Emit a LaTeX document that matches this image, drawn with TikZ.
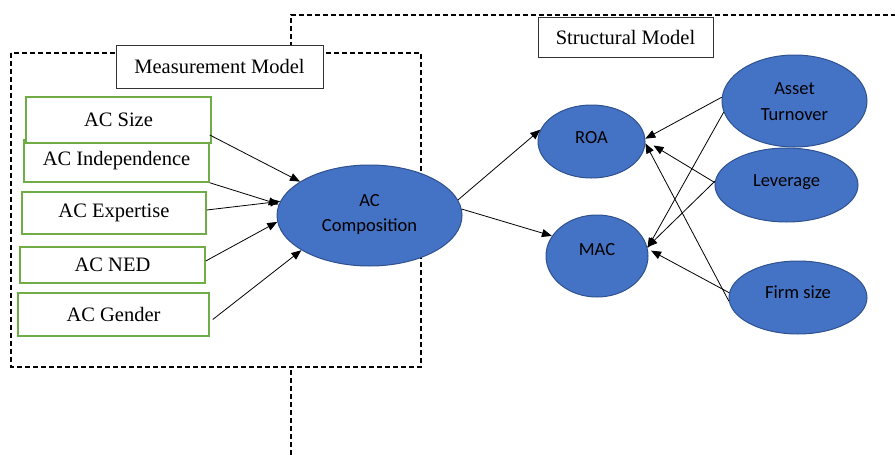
\documentclass[tikz,border=0pt]{standalone}
\usepackage{fontspec}
\setmainfont{Liberation Serif}
\newfontfamily\calfont{Carlito}
\usetikzlibrary{arrows.meta,shapes.geometric}
\definecolor{ellfill}{HTML}{4472C4}
\definecolor{elldraw}{HTML}{2F528F}
\definecolor{boxgreen}{HTML}{70AD47}
\begin{document}
\begin{tikzpicture}[x=1pt,y=-1pt,
 dashbox/.style={draw=black, line width=1.4pt, dash pattern=on 5pt off 3pt},
 titlebox/.style={draw=black!80, fill=white, line width=0.9pt, inner sep=0pt, font=\fontsize{20.5}{24}\selectfont},
 indbox/.style={draw=boxgreen, fill=white, line width=1.5pt, inner sep=0pt, font=\fontsize{20.5}{24}\selectfont},
 latent/.style={ellipse, draw=elldraw, fill=ellfill, line width=1pt, inner sep=0pt},
 lbl/.style={font=\calfont\fontsize{18.5}{25}\selectfont, inner sep=0pt, anchor=base},
 arr/.style={-{Triangle[length=10pt,width=8pt]}, line width=0.8pt},
]
\useasboundingbox (0,0) rectangle (895,455);
% structural model frame (partly hidden)
\draw[dashbox] (291,455) -- (291,15) -- (896,15);
% measurement model frame
\draw[dashbox, fill=white] (11,53) rectangle (421,367);
\node[titlebox, minimum width=207pt, minimum height=43pt] (mm) at (219.5,66.5) {Measurement Model};
\node[titlebox, minimum width=175pt, minimum height=40pt] (sm) at (625.5,37) {Structural Model};
% indicator boxes
\node[indbox, minimum width=185pt, minimum height=42pt] (acind) at (116.5,161) {AC Independence};
\node[indbox, minimum width=185pt, minimum height=46pt] (acsize) at (118.5,120) {AC Size};
\node[indbox, minimum width=184pt, minimum height=42pt] (acexp) at (114,213) {AC Expertise};
\node[indbox, minimum width=185pt, minimum height=36pt] (acned) at (112.5,265) {AC NED};
\node[indbox, minimum width=191pt, minimum height=43pt] (acgen) at (113.5,314.5) {AC Gender};
% latent variables
\node[latent, minimum width=185pt, minimum height=101pt] (acc) at (369.5,215.5) {};
\node[lbl] (accA) at ([yshift=9.5pt]acc.center) {AC};
\node[lbl] (accB) at ([yshift=-15.5pt]acc.center) {Composition};
\node[latent, minimum width=107pt, minimum height=73pt] (roa) at (591.5,141.5) {};
\node[lbl] (roaL) at ([yshift=-1.5pt]roa.center) {ROA};
\node[latent, minimum width=102pt, minimum height=82pt] (mac) at (597,256) {};
\node[lbl] (macL) at ([yshift=1pt]mac.center) {MAC};
\node[latent, minimum width=145pt, minimum height=92pt] (at) at (794.5,101) {};
\node[lbl] (atA) at ([yshift=7pt]at.center) {Asset};
\node[lbl] (atB) at ([yshift=-19pt]at.center) {Turnover};
\node[latent, minimum width=143pt, minimum height=74pt] (lev) at (786.5,185) {};
\node[lbl] (levL) at ([yshift=-1pt]lev.center) {Leverage};
\node[latent, minimum width=138pt, minimum height=73pt] (firm) at (798,297.5) {};
\node[lbl] (firmL) at ([yshift=-0.5pt]firm.center) {Firm size};
% measurement arrows
\draw[arr] ([xshift=-2pt,yshift=-15pt]acsize.east) -- (acc.154);
\draw[arr] (acind.south east) -- (acc.173);
\draw[arr] ([yshift=3pt]acexp.east) -- (acc.171);
\draw[arr] ([yshift=4pt]acned.east) -- (acc.184);
\draw[arr] ([xshift=3pt,yshift=-5pt]acgen.east) -- (acc.207);
% structural arrows
\draw[arr] (acc.10) -- (roa.167);
\draw[arr] (acc.4) -- (mac.156);
\draw[arr] (at.177) -- (roa.3);
\draw[arr] (at.189) -- (mac.9);
\draw[arr] (lev.178) -- ([xshift=8pt,yshift=-4pt]roa.east);
\draw[arr] (lev.177) -- (mac.10);
\draw[arr] (firm.176) -- ([xshift=3pt]mac.6);
\draw[arr] (firm.183) -- (roa.-2);
\end{tikzpicture}
\end{document}
